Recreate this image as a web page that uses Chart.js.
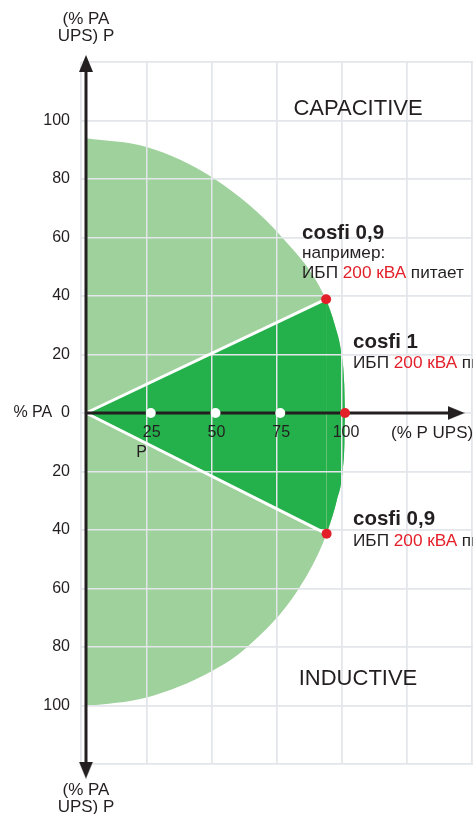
<!DOCTYPE html>
<html>
<head>
<meta charset="utf-8">
<script src="https://cdn.jsdelivr.net/npm/chart.js@4.4.1/dist/chart.umd.min.js"></script>
<style>
	html, body { margin: 0; padding: 0; background: #fff; }
	#cosfiChart { display: block; }
</style>
</head>
<body>
<canvas id="cosfiChart" width="473" height="814"></canvas>
<script>
//COSFI DIAGRAM
//Load area of the UPS, capacitive above / inductive below

const upperArcX = [0, 23.4, 49.8, 76.1, 92.7, 96.1, 98.7, 99.7, 100];
const upperArcY = [93.9, 90.9, 79.9, 59.7, 38.9, 30, 19.8, 10, 0];
const lowerArcX = [0, 23.4, 48.5, 62, 81.9, 92.9, 96.8, 99.1, 99.8, 100];
const lowerArcY = [-100.3, -97.3, -88.3, -80.2, -60.4, -41.3, -30, -19.7, -10, 0];

const cosfiX = [92.7, 100, 92.9];
const cosfiY = [38.9, 0, -41.3];
const loadSteps = [25, 50, 75];

const xTickValues = [25, 50, 75, 100];
const xTickLabels = ["25", "50", "75", "100"];
const xGridValues = [-1.9, 23.5, 48.6, 73.7, 98.8, 123.9, 149];

const INK = "#231f20";
const RED = "#e3202a";
const LIGHT = "#9ed19b";
const DARK = "#24b14b";
const GRID = "#e3e6ea";
const FONT = "'Liberation Sans', Arial, sans-serif";

Chart.defaults.font.family = FONT;

const toPoints = (xs, ys) => xs.map((x, i) => ({ x: x, y: ys[i] }));

function makeArrow() {
	const c = document.createElement("canvas");
	c.width = 14;
	c.height = 17;
	const g = c.getContext("2d");
	g.fillStyle = INK;
	g.beginPath();
	g.moveTo(7, 0);
	g.lineTo(14, 17);
	g.lineTo(0, 17);
	g.closePath();
	g.fill();
	return c;
}
const arrow = makeArrow();

function area(points, color, order, smooth) {
	return {
		data: points,
		showLine: true,
		fill: "origin",
		backgroundColor: color,
		borderColor: "transparent",
		borderWidth: 0,
		pointRadius: 0,
		cubicInterpolationMode: smooth ? "monotone" : "default",
		tension: 0,
		order: order,
	};
}

const origin = { x: 0, y: 0 };
const upperCosfi = { x: cosfiX[0], y: cosfiY[0] };
const lowerCosfi = { x: cosfiX[2], y: cosfiY[2] };

const cosfiData = {
	datasets: [
		area(toPoints(upperArcX, upperArcY), LIGHT, 6, true),
		area(toPoints(lowerArcX, lowerArcY), LIGHT, 6, true),
		area(toPoints(upperArcX.slice(4), upperArcY.slice(4)), DARK, 5, true),
		area(toPoints(lowerArcX.slice(5), lowerArcY.slice(5)), DARK, 5, true),
		area([origin, upperCosfi], DARK, 5, false),
		area([origin, lowerCosfi], DARK, 5, false),
		{
			data: [origin, upperCosfi],
			showLine: true,
			borderColor: "#ffffff",
			borderWidth: 3,
			pointRadius: 0,
			order: 4,
		},
		{
			data: [origin, lowerCosfi],
			showLine: true,
			borderColor: "#ffffff",
			borderWidth: 3,
			pointRadius: 0,
			order: 4,
		},
		{
			// vertical axis with arrows
			data: [{ x: 0, y: -122.1 }, { x: 0, y: 119.5 }],
			showLine: true,
			borderColor: INK,
			borderWidth: 3,
			pointStyle: arrow,
			pointRotation: [180, 0],
			pointRadius: 8,
			clip: false,
			order: 3,
		},
		{
			// horizontal axis with arrow
			data: [{ x: 0, y: 0 }, { x: 142.9, y: 0 }],
			showLine: true,
			borderColor: INK,
			borderWidth: 3,
			pointStyle: arrow,
			pointRotation: 90,
			pointRadius: [0, 8],
			clip: false,
			order: 2,
		},
		{
			data: loadSteps.map((v) => ({ x: v, y: 0 })),
			pointRadius: 5,
			pointBorderWidth: 0,
			pointBackgroundColor: "#ffffff",
			order: 1,
		},
		{
			data: toPoints(cosfiX, cosfiY),
			pointRadius: 5,
			pointBorderWidth: 0,
			pointBackgroundColor: RED,
			order: 1,
		},
	],
};

//grid goes over the green areas but under the axes
const gridOverPlugin = {
	id: "gridOver",
	beforeDatasetsDraw(chart) {
		chart.$gridDone = false;
	},
	beforeDatasetDraw(chart, args) {
		const ds = chart.data.datasets[args.index];
		if (!chart.$gridDone && ds.order < 5) {
			chart.scales.x.drawGrid(chart.chartArea);
			chart.scales.y.drawGrid(chart.chartArea);
			chart.$gridDone = true;
		}
	},
};

function mixedText(ctx, parts, x, y) {
	for (const [text, color] of parts) {
		ctx.fillStyle = color;
		ctx.fillText(text, x, y);
		x += ctx.measureText(text).width;
	}
}

const textPlugin = {
	id: "cosfiText",
	afterDraw(chart) {
		const ctx = chart.ctx;
		const xs = chart.scales.x;
		const x0 = xs.getPixelForValue(0);
		ctx.save();
		ctx.textBaseline = "middle";
		ctx.fillStyle = INK;

		ctx.textAlign = "center";
		ctx.font = "17px " + FONT;
		ctx.fillText("(% PA", x0, 19);
		ctx.fillText("UPS) P", x0, 36);
		ctx.fillText("(% PA", x0, 790);
		ctx.fillText("UPS) P", x0, 807);

		ctx.font = "16px " + FONT;
		xTickValues.forEach((v, i) => {
			ctx.fillText(xTickLabels[i], xs.getPixelForValue(v) + 1, 433);
		});
		ctx.fillText("P", xs.getPixelForValue(21.5), 453);

		ctx.textAlign = "left";
		ctx.font = "17px " + FONT;
		ctx.fillText("(% P UPS)", 391, 433);

		ctx.textAlign = "center";
		ctx.font = "22px " + FONT;
		ctx.fillText("CAPACITIVE", 358, 109);
		ctx.fillText("INDUCTIVE", 358, 679);

		ctx.textAlign = "left";
		ctx.font = "bold 20.5px " + FONT;
		ctx.fillText("cosfi 0,9", 302, 233);
		ctx.fillText("cosfi 1", 353, 342);
		ctx.fillText("cosfi 0,9", 353, 519);

		ctx.font = "17.2px " + FONT;
		ctx.fillText("например:", 302, 253);
		const note = [["ИБП ", INK], ["200 кВА", RED], [" питает", INK]];
		mixedText(ctx, note, 302, 273);
		mixedText(ctx, note, 353, 363);
		mixedText(ctx, note, 353, 541);
		ctx.restore();
	},
};

const cosfiConfig = {
	type: "scatter",
	data: cosfiData,
	options: {
		responsive: false,
		animation: false,
		events: [],
		layout: { autoPadding: false, padding: { top: 62, bottom: 50, left: 0, right: 0 } },
		plugins: { legend: { display: false }, tooltip: { enabled: false } },
		scales: {
			x: {
				type: "linear",
				min: -1.93,
				max: 149.42,
				afterBuildTicks: (scale) => {
					scale.ticks = xGridValues.map((v) => ({ value: v }));
				},
				ticks: { display: false },
				grid: { color: GRID, lineWidth: 1.5, drawTicks: false },
				border: { display: false },
			},
			y: {
				min: -120,
				max: 120,
				afterFit: (scale) => {
					scale.width = 81;
				},
				ticks: {
					stepSize: 20,
					padding: 11,
					color: INK,
					font: { size: 16 },
					callback: (v) => (v === 0 ? "% PA  0" : Math.abs(v) === 120 ? "" : String(Math.abs(v))),
				},
				grid: { color: GRID, lineWidth: 1.5, drawTicks: false },
				border: { display: false },
			},
		},
	},
	plugins: [gridOverPlugin, textPlugin],
};

const CosfiChart = new Chart(document.getElementById("cosfiChart"), cosfiConfig);
</script>
</body>
</html>
